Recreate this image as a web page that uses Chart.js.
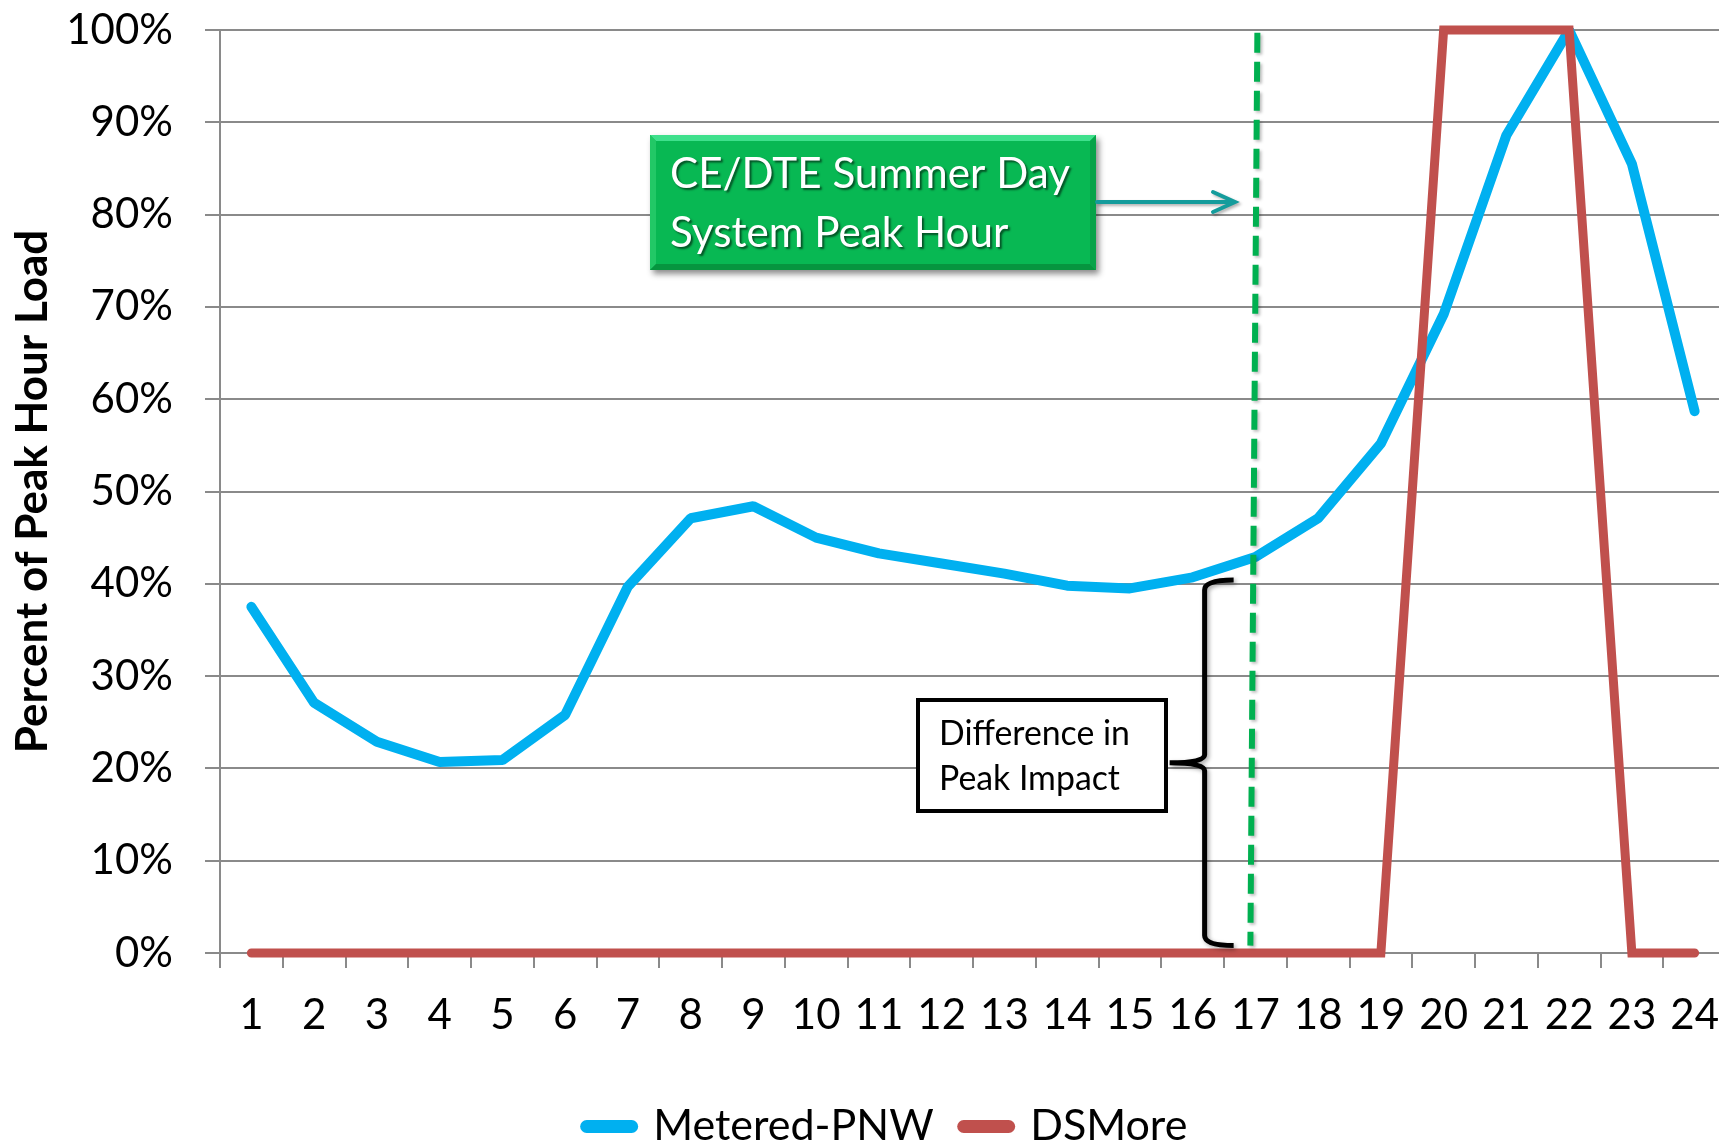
<!DOCTYPE html>
<html>
<head>
<meta charset="utf-8">
<script src="https://cdn.jsdelivr.net/npm/chart.js@4.4.0/dist/chart.umd.min.js"></script>
<style>
  html, body { margin: 0; padding: 0; background: #fff; overflow: hidden; }
  #wrap { position: absolute; left: 0; top: 0; width: 1774px; height: 1158px; }
</style>
</head>
<body>
<div id="wrap"><canvas id="loadChart"></canvas></div>
<script>
  // hours of the day
  const hours = ['1', '2', '3', '4', '5', '6', '7', '8', '9', '10', '11', '12',
                 '13', '14', '15', '16', '17', '18', '19', '20', '21', '22', '23', '24'];

  // percent of peak hour load
  const meteredPNW = [37.5, 27.1, 22.9, 20.7, 20.9, 25.8, 39.7, 47.1, 48.4, 45.0, 43.3, 42.2,
                      41.1, 39.8, 39.5, 40.7, 42.9, 47.1, 55.2, 69.2, 88.6, 100, 85.5, 58.7];
  const dsMore = [0, 0, 0, 0, 0, 0, 0, 0, 0, 0, 0, 0,
                  0, 0, 0, 0, 0, 0, 0, 100, 100, 100, 0, 0];

  const yMin = 0;
  const yMax = 100;
  const yStep = 10;

  const gridGray = '#8a8a8a';

  function fitFont(ctx, text, width, weight) {
    ctx.font = weight + ' 40px Lato';
    const w = ctx.measureText(text).width;
    return 40 * width / w;
  }

  // shapes drawn on top of the chart (peak hour marker, brace, call-outs)
  const annotations = {
    id: 'annotations',
    afterDatasetsDraw(chart) {
      const { ctx, scales: { x, y } } = chart;

      // brace "Difference in Peak Impact"
      const bx = x.getPixelForValue(15) + 12;
      const yTop = y.getPixelForValue(40.4);
      const yBot = y.getPixelForValue(0.8);
      const yMid = (yTop + yBot) / 2;
      ctx.save();
      ctx.shadowColor = 'rgba(0,0,0,0.35)';
      ctx.shadowBlur = 4;
      ctx.shadowOffsetX = 2;
      ctx.shadowOffsetY = 2;
      ctx.strokeStyle = '#000';
      ctx.lineWidth = 5;
      ctx.beginPath();
      ctx.moveTo(bx + 29, yTop);
      ctx.quadraticCurveTo(bx, yTop, bx, yTop + 10);
      ctx.lineTo(bx, yMid - 8);
      ctx.quadraticCurveTo(bx, yMid, bx - 35, yMid);
      ctx.quadraticCurveTo(bx, yMid, bx, yMid + 8);
      ctx.lineTo(bx, yBot - 10);
      ctx.quadraticCurveTo(bx, yBot, bx + 29, yBot);
      ctx.stroke();
      ctx.restore();

      // dashed system peak hour line
      ctx.save();
      ctx.shadowColor = 'rgba(0,0,0,0.25)';
      ctx.shadowBlur = 3;
      ctx.shadowOffsetX = 2;
      ctx.shadowOffsetY = 2;
      ctx.strokeStyle = '#00b050';
      ctx.lineWidth = 6;
      ctx.setLineDash([20, 9]);
      ctx.beginPath();
      ctx.moveTo(x.getPixelForValue(16) + 2, y.getPixelForValue(99.7));
      ctx.lineTo(x.getPixelForValue(16) - 5, y.getPixelForValue(0.8));
      ctx.stroke();
      ctx.restore();
    },
    afterDraw(chart) {
      const { ctx } = chart;

      // green call-out
      const gx = 650, gy = 135, gw = 446, gh = 135, bev = 6;
      ctx.save();
      ctx.shadowColor = 'rgba(0,0,0,0.45)';
      ctx.shadowBlur = 6;
      ctx.shadowOffsetX = 3;
      ctx.shadowOffsetY = 4;
      ctx.fillStyle = '#08b853';
      ctx.fillRect(gx, gy, gw, gh);
      ctx.restore();
      ctx.save();
      ctx.fillStyle = '#3fe08c';
      ctx.beginPath();
      ctx.moveTo(gx, gy); ctx.lineTo(gx + gw, gy); ctx.lineTo(gx + gw - bev, gy + bev); ctx.lineTo(gx + bev, gy + bev);
      ctx.fill();
      ctx.fillStyle = '#22c866';
      ctx.beginPath();
      ctx.moveTo(gx, gy); ctx.lineTo(gx + bev, gy + bev); ctx.lineTo(gx + bev, gy + gh - bev); ctx.lineTo(gx, gy + gh);
      ctx.fill();
      ctx.fillStyle = '#06953f';
      ctx.beginPath();
      ctx.moveTo(gx, gy + gh); ctx.lineTo(gx + bev, gy + gh - bev); ctx.lineTo(gx + gw - bev, gy + gh - bev); ctx.lineTo(gx + gw, gy + gh);
      ctx.fill();
      ctx.fillStyle = '#07a349';
      ctx.beginPath();
      ctx.moveTo(gx + gw, gy); ctx.lineTo(gx + gw, gy + gh); ctx.lineTo(gx + gw - bev, gy + gh - bev); ctx.lineTo(gx + gw - bev, gy + bev);
      ctx.fill();

      const gSize = fitFont(ctx, 'CE/DTE Summer Day', 400, 'normal');
      ctx.font = gSize + 'px Lato';
      ctx.fillStyle = '#fff';
      ctx.textAlign = 'left';
      ctx.textBaseline = 'alphabetic';
      ctx.shadowColor = 'rgba(0,0,0,0.55)';
      ctx.shadowBlur = 2;
      ctx.shadowOffsetX = 2;
      ctx.shadowOffsetY = 2;
      ctx.fillText('CE/DTE Summer Day', 670, 188);
      ctx.fillText('System Peak Hour', 670, 247);
      ctx.restore();

      // arrow to the peak hour line
      ctx.save();
      ctx.shadowColor = 'rgba(0,0,0,0.3)';
      ctx.shadowBlur = 3;
      ctx.shadowOffsetX = 2;
      ctx.shadowOffsetY = 2;
      ctx.strokeStyle = '#149c9c';
      ctx.lineWidth = 4;
      ctx.lineCap = 'round';
      ctx.beginPath();
      ctx.moveTo(gx + gw + 1, 202);
      ctx.lineTo(1233, 202);
      ctx.moveTo(1213, 192);
      ctx.lineTo(1235, 202);
      ctx.lineTo(1213, 212);
      ctx.stroke();
      ctx.restore();

      // difference call-out box
      ctx.save();
      ctx.fillStyle = '#fff';
      ctx.fillRect(918, 700, 248, 111);
      ctx.strokeStyle = '#000';
      ctx.lineWidth = 4;
      ctx.strokeRect(918, 700, 248, 111);
      const dSize = fitFont(ctx, 'Difference in', 191, 'normal');
      ctx.font = dSize + 'px Lato';
      ctx.fillStyle = '#000';
      ctx.textAlign = 'left';
      ctx.textBaseline = 'alphabetic';
      ctx.fillText('Difference in', 939, 745);
      ctx.fillText('Peak Impact', 939, 790);
      ctx.restore();
    }
  };

  Chart.defaults.font.family = 'Lato';
  Chart.defaults.color = '#000';

  const ctx = document.getElementById('loadChart');

  new Chart(ctx, {
    type: 'line',
    data: {
      labels: hours,
      datasets: [{
        label: 'Metered-PNW',
        data: meteredPNW,
        borderColor: '#00b0f0',
        backgroundColor: '#00b0f0',
        borderWidth: 10,
        borderCapStyle: 'round',
        borderJoinStyle: 'bevel',
        pointRadius: 0,
        tension: 0,
        clip: false,
        order: 2
      }, {
        label: 'DSMore',
        data: dsMore,
        borderColor: '#c0504d',
        backgroundColor: '#c0504d',
        borderWidth: 9,
        borderCapStyle: 'round',
        borderJoinStyle: 'miter',
        pointRadius: 0,
        tension: 0,
        clip: false,
        order: 1
      }]
    },
    options: {
      responsive: true,
      maintainAspectRatio: false,
      animation: false,
      layout: {
        padding: { top: 0, right: 0, bottom: 0, left: 0 }
      },
      scales: {
        x: {
          offset: true,
          grid: {
            offset: true,
            drawOnChartArea: false,
            tickLength: 15,
            color: gridGray,
            lineWidth: 2
          },
          border: { color: gridGray, width: 2 },
          ticks: {
            font: { size: 42 },
            padding: 22,
            maxRotation: 0,
            autoSkip: false
          },
          afterFit(scale) {
            scale.height = 122;
            scale.paddingLeft = 0;
            scale.paddingRight = 48;
          }
        },
        y: {
          min: yMin,
          max: yMax,
          grid: {
            color: gridGray,
            lineWidth: 2,
            tickLength: 15
          },
          border: { color: gridGray, width: 2 },
          ticks: {
            stepSize: yStep,
            font: { size: 42 },
            padding: 32,
            callback: v => v + '%'
          },
          title: {
            display: true,
            text: 'Percent of Peak Hour Load',
            font: { size: 44, weight: 'bold' },
            padding: { top: 6, bottom: 0 }
          },
          afterFit(scale) {
            scale.width = 220;
            scale.paddingTop = 30;
            scale.paddingBottom = 0;
          }
        }
      },
      plugins: {
        legend: {
          position: 'bottom',
          labels: {
            usePointStyle: true,
            pointStyle: 'line',
            pointStyleWidth: 45,
            padding: 30,
            font: { size: 43 },
            generateLabels: chart =>
              Chart.defaults.plugins.legend.labels.generateLabels(chart)
                .map(item => ({ ...item, lineWidth: 13, lineCap: 'round' })),
            sort: (a, b) => a.datasetIndex - b.datasetIndex
          }
        },
        tooltip: { enabled: false }
      }
    },
    plugins: [annotations]
  });
</script>
</body>
</html>
